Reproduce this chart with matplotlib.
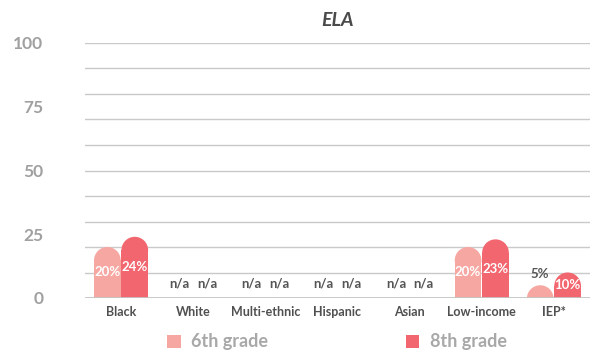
import matplotlib
matplotlib.use("Agg")
import matplotlib.pyplot as plt
from matplotlib.patches import Ellipse, Patch
import numpy as np

categories = ["Black", "White", "Multi-ethnic", "Hispanic", "Asian", "Low-income", "IEP*"]
grade6 = [20, None, None, None, None, 20, 5]
grade8 = [24, None, None, None, None, 23, 10]
series_names = ["6th grade", "8th grade"]
colors = ["#F7A7A2", "#F2666F"]
yticks = [0, 25, 50, 75, 100]

plt.rcParams['font.family'] = ['Lato', 'DejaVu Sans']

W, H = 592, 352
fig = plt.figure(figsize=(W / 100, H / 100), dpi=100)
ax_l, ax_r, ax_b, ax_t = 85, 590, 298, 43
ax = fig.add_axes([ax_l / W, 1 - ax_b / H, (ax_r - ax_l) / W, (ax_b - ax_t) / H])
ax.set_xlim(-0.5, len(categories) - 0.5)
ax.set_ylim(0, 100)

for s in ax.spines.values():
    s.set_visible(False)
for g in range(10, 101, 10):
    ax.axhline(g, color="#c9c9c9", lw=1.0, zorder=0)
ax.axhline(0, color="#c4c4c4", lw=2.0, zorder=3)

ax.set_yticks(yticks)
ax.set_yticklabels([str(t) for t in yticks], fontsize=12.5, fontweight="bold", color="#a0a0a0")
ax.tick_params(axis="y", length=0, pad=30)
ax.set_xticks(range(len(categories)))
ax.set_xticklabels(categories, fontsize=9, fontweight="bold", color="#505050")
ax.tick_params(axis="x", length=0, pad=6)

bw = 0.37
off = 0.19
pxx = (ax_r - ax_l) / len(categories)
pxy = (ax_b - ax_t) / 100.0
ry = (bw / 2) * pxx / pxy

x = np.arange(len(categories))
for si, (vals, col, sgn) in enumerate(zip([grade6, grade8], colors, [-1, 1])):
    for i, v in enumerate(vals):
        xc = x[i] + sgn * off
        if v is None:
            ax.text(xc, 5.5, "n/a", ha="center", va="center", fontsize=9.5,
                    fontweight="bold", color="#555555", zorder=5)
            continue
        hrect = max(v - ry, 0)
        ax.bar(xc, hrect, width=bw, color=col, zorder=2, linewidth=0)
        ax.add_patch(Ellipse((xc, v - ry), bw, 2 * ry, color=col, zorder=2, lw=0))
        if v >= 8:
            ax.text(xc, v / 2, f"{v}%", ha="center", va="center", fontsize=9.5,
                    fontweight="bold", color="white", zorder=5)
        else:
            ax.text(xc, v + 4.5, f"{v}%", ha="center", va="center", fontsize=9.5,
                    fontweight="bold", color="#555555", zorder=5)

fig.text((ax_l + ax_r) / 2 / W, 1 - 20 / H, "ELA", ha="center", va="center",
         fontsize=14, fontweight="bold", fontstyle="italic", color="#4a4a4a")

handles = [Patch(color=c, lw=0) for c in colors]
leg = fig.legend(handles, series_names, loc="center", bbox_to_anchor=(337 / W, 1 - 342 / H),
                 ncol=2, frameon=False, fontsize=13, handlelength=0.75, handleheight=0.75,
                 handletextpad=0.6, columnspacing=7.6)
for t in leg.get_texts():
    t.set_color("#a8a8a8")
    t.set_fontweight("bold")

fig.savefig("out.png", dpi=100)
